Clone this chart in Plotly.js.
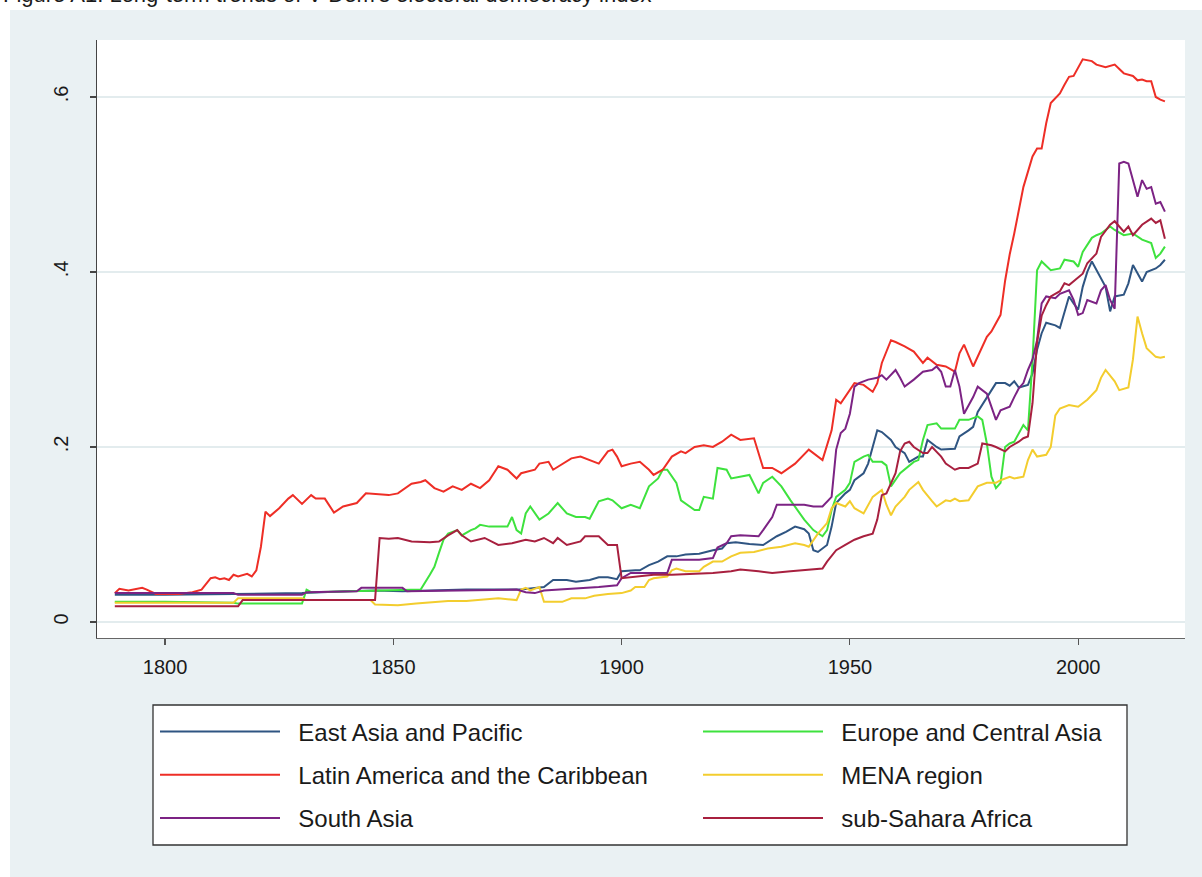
<!DOCTYPE html>
<html>
<head>
<meta charset="utf-8">
<script src="https://cdn.plot.ly/plotly-3.0.1.min.js"></script>
<style>
html,body{margin:0;padding:0;background:#ffffff;}
#chart{width:1202px;height:877px;}
</style>
</head>
<body>
<div id="chart"></div>
<script>
// ---------------- data ----------------
const seriesNames = ["East Asia and Pacific", "Europe and Central Asia", "Latin America and the Caribbean", "MENA region", "South Asia", "sub-Sahara Africa"];
const xTickVals = [1800, 1850, 1900, 1950, 2000];
const yTickVals = [0, 0.2, 0.4, 0.6];
const yTickText = ["0", ".2", ".4", ".6"];

const eapYears = [1789,1800,1815,1830,1840,1846,1852,1866,1878,1883,1885,1888,1890,1893,1895,1897,1899,1900,1903,1904,1906,1908,1910,1912,1914,1917,1920,1922,1923,1925,1928,1931,1934,1936,1938,1940,1941,1942,1943,1945,1946,1947,1949,1950,1951,1953,1954,1956,1957,1959,1960,1962,1963,1965,1966,1967,1969,1970,1973,1974,1976,1977,1978,1980,1982,1984,1985,1986,1987,1989,1990,1991,1992,1993,1995,1996,1997,1998,1999,2000,2001,2002,2003,2004,2006,2007,2008,2010,2011,2012,2013,2014,2015,2017,2018,2019];
const eapValues = [0.031,0.031,0.032,0.033,0.035,0.036,0.035,0.037,0.037,0.040,0.048,0.048,0.046,0.048,0.051,0.051,0.049,0.058,0.059,0.059,0.065,0.069,0.075,0.075,0.077,0.078,0.082,0.084,0.090,0.091,0.089,0.088,0.098,0.103,0.109,0.106,0.101,0.082,0.080,0.088,0.109,0.136,0.147,0.151,0.162,0.170,0.181,0.219,0.217,0.208,0.200,0.193,0.183,0.189,0.189,0.208,0.200,0.197,0.198,0.212,0.219,0.223,0.240,0.257,0.273,0.273,0.270,0.275,0.268,0.271,0.284,0.311,0.330,0.342,0.339,0.336,0.353,0.372,0.364,0.357,0.383,0.400,0.412,0.402,0.383,0.355,0.372,0.374,0.387,0.408,0.398,0.389,0.400,0.404,0.408,0.414];

const ecaYears = [1789,1800,1815,1816,1830,1831,1832,1840,1850,1856,1858,1859,1860,1861,1862,1864,1865,1867,1868,1869,1871,1875,1876,1877,1878,1879,1880,1881,1882,1884,1886,1888,1890,1892,1893,1895,1897,1898,1900,1902,1904,1906,1908,1909,1910,1912,1913,1916,1917,1918,1920,1921,1923,1924,1926,1928,1930,1931,1933,1935,1937,1939,1940,1942,1943,1944,1945,1946,1947,1949,1950,1951,1953,1954,1955,1957,1958,1959,1961,1962,1964,1965,1966,1967,1969,1970,1973,1974,1976,1978,1979,1980,1981,1982,1983,1984,1985,1986,1988,1989,1990,1991,1992,1994,1996,1997,1999,2000,2001,2003,2004,2005,2007,2008,2010,2012,2014,2016,2017,2018,2019];
const ecaValues = [0.023,0.023,0.022,0.021,0.021,0.037,0.034,0.035,0.036,0.037,0.054,0.063,0.079,0.094,0.101,0.105,0.099,0.105,0.107,0.111,0.109,0.109,0.120,0.105,0.101,0.124,0.132,0.124,0.117,0.124,0.136,0.124,0.120,0.120,0.118,0.138,0.141,0.139,0.130,0.134,0.130,0.155,0.164,0.174,0.174,0.159,0.139,0.128,0.128,0.143,0.141,0.176,0.174,0.164,0.166,0.168,0.147,0.159,0.166,0.155,0.139,0.124,0.117,0.105,0.101,0.098,0.105,0.128,0.143,0.151,0.159,0.183,0.189,0.191,0.183,0.183,0.179,0.155,0.170,0.174,0.183,0.185,0.208,0.225,0.227,0.221,0.221,0.231,0.231,0.235,0.231,0.204,0.166,0.153,0.159,0.200,0.204,0.206,0.225,0.219,0.299,0.402,0.412,0.402,0.404,0.414,0.412,0.406,0.423,0.439,0.442,0.444,0.452,0.448,0.442,0.444,0.437,0.433,0.416,0.421,0.429];

const lacYears = [1789,1790,1792,1793,1795,1796,1798,1803,1806,1808,1810,1811,1812,1813,1814,1815,1816,1818,1819,1820,1821,1822,1823,1825,1827,1828,1830,1832,1833,1835,1837,1839,1842,1844,1846,1849,1851,1854,1856,1857,1859,1861,1863,1865,1867,1869,1871,1873,1875,1877,1878,1881,1882,1884,1885,1887,1889,1891,1893,1895,1897,1898,1899,1900,1902,1904,1906,1907,1909,1911,1913,1914,1916,1918,1920,1922,1924,1926,1929,1931,1933,1935,1938,1941,1944,1946,1947,1948,1951,1953,1955,1956,1957,1959,1960,1962,1964,1966,1967,1969,1971,1973,1974,1975,1977,1978,1980,1981,1983,1984,1985,1986,1987,1988,1990,1991,1992,1993,1994,1996,1997,1998,1999,2000,2001,2003,2004,2006,2008,2010,2012,2013,2014,2015,2016,2017,2018,2019];
const lacValues = [0.033,0.038,0.036,0.037,0.039,0.037,0.032,0.032,0.034,0.037,0.050,0.051,0.049,0.050,0.048,0.054,0.052,0.055,0.052,0.059,0.086,0.126,0.121,0.130,0.141,0.145,0.135,0.145,0.141,0.141,0.125,0.132,0.136,0.147,0.146,0.145,0.147,0.158,0.160,0.162,0.153,0.149,0.155,0.151,0.158,0.153,0.162,0.178,0.174,0.164,0.170,0.174,0.181,0.183,0.174,0.181,0.187,0.189,0.185,0.181,0.195,0.197,0.189,0.178,0.181,0.183,0.174,0.168,0.174,0.189,0.195,0.193,0.200,0.202,0.200,0.206,0.214,0.208,0.210,0.176,0.176,0.170,0.181,0.197,0.185,0.219,0.254,0.250,0.273,0.271,0.263,0.273,0.296,0.322,0.320,0.315,0.309,0.296,0.302,0.294,0.292,0.286,0.307,0.317,0.292,0.303,0.326,0.332,0.351,0.390,0.420,0.444,0.470,0.497,0.532,0.541,0.541,0.570,0.593,0.604,0.614,0.623,0.624,0.633,0.643,0.641,0.637,0.634,0.637,0.627,0.624,0.619,0.620,0.618,0.618,0.600,0.597,0.595];

const menaYears = [1789,1800,1815,1816,1830,1831,1845,1846,1851,1855,1859,1862,1866,1870,1873,1877,1878,1879,1880,1882,1883,1887,1889,1892,1894,1897,1900,1902,1903,1905,1906,1907,1910,1911,1912,1914,1917,1918,1920,1922,1924,1926,1929,1932,1935,1938,1940,1941,1943,1945,1946,1947,1949,1950,1951,1953,1954,1955,1957,1958,1959,1960,1962,1963,1965,1966,1968,1969,1971,1972,1973,1974,1976,1977,1978,1980,1982,1983,1985,1986,1988,1989,1990,1991,1993,1994,1995,1996,1998,2000,2002,2004,2005,2006,2008,2009,2011,2012,2013,2014,2015,2017,2018,2019];
const menaValues = [0.022,0.022,0.022,0.027,0.027,0.025,0.025,0.020,0.019,0.021,0.023,0.024,0.024,0.026,0.027,0.025,0.037,0.039,0.036,0.040,0.023,0.023,0.027,0.027,0.030,0.032,0.033,0.036,0.040,0.040,0.048,0.050,0.052,0.059,0.061,0.058,0.058,0.063,0.069,0.069,0.075,0.079,0.080,0.084,0.086,0.090,0.088,0.086,0.101,0.113,0.130,0.136,0.132,0.138,0.130,0.124,0.134,0.143,0.151,0.134,0.122,0.132,0.143,0.151,0.160,0.151,0.138,0.132,0.139,0.138,0.141,0.138,0.139,0.147,0.155,0.159,0.159,0.162,0.166,0.164,0.166,0.185,0.197,0.189,0.191,0.200,0.236,0.244,0.248,0.246,0.254,0.265,0.279,0.288,0.275,0.265,0.268,0.300,0.349,0.330,0.313,0.303,0.302,0.303];

const saYears = [1789,1815,1816,1830,1831,1842,1843,1852,1853,1866,1877,1879,1881,1883,1890,1895,1899,1900,1902,1910,1911,1917,1920,1921,1923,1924,1926,1930,1931,1933,1934,1937,1940,1942,1944,1946,1947,1948,1949,1950,1951,1952,1954,1956,1957,1958,1960,1961,1962,1964,1966,1968,1969,1970,1971,1972,1973,1974,1975,1977,1978,1980,1981,1982,1983,1985,1986,1987,1988,1989,1990,1991,1992,1993,1995,1996,1998,1999,2000,2001,2002,2004,2005,2006,2007,2008,2009,2010,2011,2012,2013,2014,2015,2016,2017,2018,2019];
const saValues = [0.033,0.033,0.031,0.031,0.034,0.035,0.039,0.039,0.035,0.036,0.037,0.034,0.033,0.036,0.038,0.040,0.042,0.050,0.056,0.056,0.071,0.071,0.073,0.085,0.090,0.098,0.099,0.098,0.105,0.120,0.134,0.134,0.134,0.132,0.132,0.143,0.197,0.216,0.221,0.238,0.269,0.273,0.277,0.279,0.282,0.277,0.288,0.279,0.269,0.277,0.286,0.288,0.292,0.286,0.269,0.269,0.288,0.269,0.238,0.257,0.269,0.261,0.245,0.231,0.242,0.246,0.257,0.267,0.273,0.288,0.300,0.322,0.364,0.372,0.370,0.375,0.379,0.368,0.351,0.353,0.368,0.364,0.379,0.385,0.368,0.358,0.524,0.526,0.524,0.505,0.486,0.505,0.495,0.497,0.478,0.480,0.469];

const ssaYears = [1789,1816,1817,1846,1847,1849,1851,1854,1858,1860,1862,1864,1865,1867,1870,1873,1876,1879,1881,1883,1885,1886,1888,1891,1892,1895,1897,1899,1900,1903,1907,1911,1915,1920,1924,1926,1930,1933,1937,1940,1944,1945,1947,1949,1951,1953,1955,1956,1957,1958,1960,1961,1962,1963,1964,1966,1967,1968,1970,1971,1973,1974,1976,1978,1979,1981,1982,1984,1985,1987,1988,1989,1990,1991,1992,1993,1994,1996,1997,1998,2000,2001,2002,2004,2005,2007,2008,2010,2011,2012,2014,2016,2017,2018,2019];
const ssaValues = [0.018,0.018,0.025,0.025,0.096,0.095,0.096,0.092,0.091,0.092,0.099,0.105,0.099,0.092,0.096,0.088,0.090,0.094,0.092,0.096,0.090,0.096,0.088,0.092,0.098,0.098,0.088,0.088,0.050,0.052,0.054,0.054,0.055,0.056,0.058,0.060,0.058,0.056,0.058,0.059,0.061,0.069,0.082,0.088,0.094,0.098,0.101,0.117,0.145,0.147,0.170,0.195,0.204,0.206,0.200,0.193,0.193,0.200,0.189,0.181,0.174,0.176,0.176,0.181,0.204,0.202,0.200,0.195,0.200,0.206,0.210,0.212,0.250,0.320,0.350,0.362,0.372,0.378,0.387,0.385,0.393,0.398,0.410,0.421,0.440,0.454,0.458,0.446,0.452,0.442,0.454,0.461,0.456,0.459,0.438];

// ---------------- styling ----------------
const colors = ["#2f5582", "#3ee23e", "#ee2e26", "#f3cd2e", "#7c2384", "#a8203f"];
const legendOf = ["legend", "legend2", "legend", "legend2", "legend", "legend2"];
const xs = [eapYears, ecaYears, lacYears, menaYears, saYears, ssaYears];
const ys = [eapValues, ecaValues, lacValues, menaValues, saValues, ssaValues];

const W = 1202, H = 877, ML = 97, MR = 17, MT = 40, MB = 239;
const PW = W - ML - MR, PH = H - MT - MB;
const px = v => (v - ML) / PW;
const py = v => (H - MB - v) / PH;

const traces = seriesNames.map((n, i) => ({
  type: "scatter", mode: "lines",
  x: xs[i], y: ys[i],
  name: "\u00a0\u00a0" + n,
  legend: legendOf[i], legendgroup: "g" + i,
  line: {color: colors[i], width: 2},
  hoverinfo: "skip"
}));

const fontFam = "'Liberation Sans', Arial, Helvetica, sans-serif";
const legendCommon = {
  orientation: "v", xanchor: "left", yanchor: "top",
  bgcolor: "rgba(0,0,0,0)", borderwidth: 0,
  font: {family: fontFam, size: 24, color: "#1a1a1a"},
  itemwidth: 120, tracegroupgap: 9, itemclick: false, itemdoubleclick: false
};

const layout = {
  width: W, height: H,
  margin: {l: ML, r: MR, t: MT, b: MB, pad: 0},
  paper_bgcolor: "#eaf1f3",
  plot_bgcolor: "#ffffff",
  font: {family: fontFam, color: "#1a1a1a"},
  showlegend: true,
  xaxis: {
    range: [1785.1, 2023.4], tickvals: xTickVals,
    ticks: "outside", ticklen: 6, tickwidth: 1.2, tickcolor: "#555",
    showline: true, linecolor: "#666", linewidth: 1.2,
    showgrid: false, zeroline: false,
    tickfont: {size: 20, color: "#1a1a1a"}, ticklabelstandoff: 5
  },
  yaxis: {
    range: [-0.0183, 0.6651], tickvals: yTickVals, ticktext: yTickText,
    tickangle: -90,
    ticks: "outside", ticklen: 6, tickwidth: 1.2, tickcolor: "#444",
    showline: true, linecolor: "#444", linewidth: 1.5,
    showgrid: true, gridcolor: "#e3ecee", gridwidth: 1.5, zeroline: false,
    tickfont: {size: 20, color: "#1a1a1a"}, ticklabelstandoff: 14
  },
  legend: Object.assign({x: px(155), y: py(709.5)}, legendCommon),
  legend2: Object.assign({x: px(698), y: py(709.5)}, legendCommon),
  shapes: [
    {type: "rect", xref: "paper", yref: "paper", x0: px(0), x1: px(W), y0: py(10), y1: py(0),
     fillcolor: "#ffffff", line: {width: 0}, layer: "below"},
    {type: "rect", xref: "paper", yref: "paper", x0: px(0), x1: px(10), y0: py(H), y1: py(0),
     fillcolor: "#ffffff", line: {width: 0}, layer: "below"},
    {type: "rect", xref: "paper", yref: "paper", x0: px(153), x1: px(1127), y0: py(845), y1: py(705),
     fillcolor: "#ffffff", line: {color: "#333333", width: 1.3}, layer: "below"}
  ],
  annotations: [
    {text: "Figure A1: Long-term trends of V-Dem's electoral democracy index",
     xref: "paper", yref: "paper", x: px(1), y: py(9), xanchor: "left", yanchor: "bottom",
     showarrow: false, font: {family: fontFam, size: 22, color: "#1a1a1a"}}
  ]
};

Plotly.newPlot("chart", traces, layout, {displayModeBar: false, staticPlot: true});
</script>
</body>
</html>
